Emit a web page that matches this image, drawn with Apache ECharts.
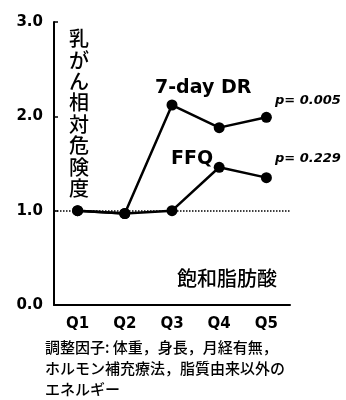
<!DOCTYPE html>
<html><head><meta charset="utf-8">
<script src="https://cdn.jsdelivr.net/npm/echarts@6/dist/echarts.min.js"></script>
<style>html,body{margin:0;padding:0;background:#fff;}#c{width:346px;height:400px;}</style>
</head><body><div id="c"></div>
<script>
var categories = ['Q1', 'Q2', 'Q3', 'Q4', 'Q5'];
var drValues = [1.0, 0.97, 2.12, 1.88, 1.99];
var ffqValues = [1.0, 0.97, 1.0, 1.46, 1.35];
var yTicks = [0, 1, 2, 3];
var refValue = 1.0;
var seriesNames = ['7-day DR', 'FFQ'];
var pLabels = ['p= 0.005', 'p= 0.229'];
var yTitle = '乳がん相対危険度';
var xTitle = '飽和脂肪酸';
var caption = ['調整因子: 体重，身長，月経有無，', 'ホルモン補充療法，脂質由来以外の', 'エネルギー'];

var latin = '"DejaVu Sans", Verdana, sans-serif';
var cjk = '"Noto Sans CJK JP", sans-serif';
var chart = echarts.init(document.getElementById('c'));
chart.setOption({
  animation: false,
  backgroundColor: '#fff',
  grid: {left: 54, top: 22, right: 56, bottom: 95},
  xAxis: {
    type: 'category', data: categories, boundaryGap: true,
    axisLine: {lineStyle: {color: '#000', width: 2}},
    axisTick: {inside: true, length: 4, lineStyle: {color: '#000', width: 1.5}},
    axisLabel: {color: '#000', fontFamily: latin, fontWeight: 'bold', fontSize: 15, margin: 12}
  },
  yAxis: {
    type: 'value', min: yTicks[0], max: yTicks[yTicks.length - 1], interval: 1,
    splitLine: {show: false},
    axisLine: {show: true, lineStyle: {color: '#000', width: 2}},
    axisTick: {show: true, inside: true, length: 4, lineStyle: {color: '#000', width: 1.5}},
    axisLabel: {color: '#000', fontFamily: latin, fontWeight: 'bold', fontSize: 15, margin: 11,
      formatter: function (v) { return v.toFixed(1); }}
  },
  series: [
    {name: seriesNames[0], type: 'line', data: drValues, symbol: 'circle', symbolSize: 11,
     itemStyle: {color: '#000'}, lineStyle: {color: '#000', width: 2.5}, z: 3,
     markLine: {silent: true, symbol: 'none', label: {show: false},
       lineStyle: {color: '#000', type: [1.5, 1.5], width: 1.5},
       data: [{yAxis: refValue}]}},
    {name: seriesNames[1], type: 'line', data: ffqValues, symbol: 'circle', symbolSize: 11,
     itemStyle: {color: '#000'}, lineStyle: {color: '#000', width: 2.5}, z: 3}
  ],
  graphic: [
    {type: 'text', left: 69, top: 28, style: {text: yTitle.split('').join('\n'), font: '500 20px ' + cjk, lineHeight: 21.4, fill: '#000', textAlign: 'center'}},
    {type: 'text', left: 155, top: 79, style: {text: seriesNames[0], font: 'bold 19px ' + latin, fill: '#000'}},
    {type: 'text', left: 171, top: 150, style: {text: seriesNames[1], font: 'bold 19px ' + latin, fill: '#000'}},
    {type: 'text', left: 275, top: 94, style: {text: pLabels[0], font: 'italic bold 13px ' + latin, fill: '#000'}},
    {type: 'text', left: 275, top: 152, style: {text: pLabels[1], font: 'italic bold 13px ' + latin, fill: '#000'}},
    {type: 'text', left: 177, top: 268, style: {text: xTitle, font: '500 20px ' + cjk, fill: '#000'}},
    {type: 'text', left: 45, top: 337, style: {text: caption.join('\n'), font: '500 15px ' + cjk, lineHeight: 21, fill: '#000'}}
  ]
});
</script></body></html>
